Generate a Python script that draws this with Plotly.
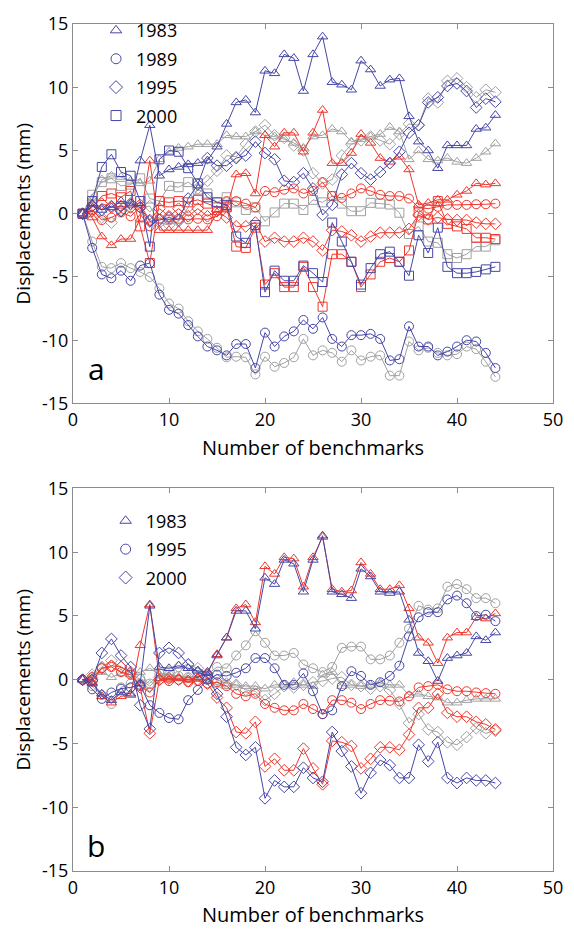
import plotly.graph_objects as go

# Benchmark index along the levelling line
bench = list(range(1, 45))

# ---- Panel a: displacements for 1983, 1989, 1995, 2000 (mm) ----
a_blue_1983 = [0, 0.8, 0.3, 0.5, 1.0, 0.8, 4.2, 7.0, 3.0, 3.5, 3.7, 3.9, 4.0, 4.2, 5.3, 7.1, 8.8, 9.0, 8.0, 11.3, 11.1, 12.6, 12.3, 9.7, 12.6, 14.0, 10.4, 10.2, 9.8, 12.1, 11.4, 10.1, 10.6, 10.7, 7.7, 5.7, 5.0, 3.6, 5.4, 5.4, 5.4, 6.7, 6.8, 7.8]
a_red_1983 = [0, -0.3, -1.8, -2.5, -2.0, -2.0, -0.4, 4.2, -1.3, -1.3, -1.3, -1.3, -1.3, -1.3, 0.1, 0.4, 3.1, 3.2, 1.6, 6.2, 5.3, 6.4, 6.4, 4.9, 6.4, 8.2, 4.0, 4.0, 4.8, 6.3, 5.6, 4.4, 4.1, 4.5, 3.5, 0.7, 0.85, 1.1, 1.1, 1.5, 1.8, 2.4, 2.3, 2.4]
a_gray_1983 = [0, 1.2, 2.7, 3.0, 2.9, 2.6, 2.4, 2.6, 4.3, 4.9, 5.2, 5.3, 5.5, 5.5, 5.5, 6.2, 6.1, 6.1, 6.5, 6.2, 6.1, 5.9, 5.6, 5.2, 6.1, 6.2, 6.7, 6.5, 5.7, 5.9, 6.1, 6.3, 6.85, 6.5, 4.3, 5.0, 4.3, 4.2, 4.4, 4.1, 4.0, 4.4, 4.9, 5.55]

a_blue_1989 = [0, -2.7, -4.8, -5.1, -4.5, -5.3, -4.1, -3.9, -6.4, -7.6, -7.9, -8.8, -9.7, -10.5, -10.8, -11.2, -10.3, -10.3, -12.2, -9.4, -10.5, -9.7, -9.3, -8.4, -9.1, -8.2, -9.9, -10.5, -9.6, -9.6, -9.5, -9.9, -11.6, -11.5, -8.9, -10.5, -10.5, -11.2, -10.9, -10.5, -10.0, -10.1, -11.0, -12.2]
a_red_1989 = [0, 0.3, -0.5, -0.3, 0.1, -0.2, 0.5, -1.0, -0.4, -0.45, -0.4, -0.45, -0.4, -0.45, -0.2, 1.0, 1.0, 0.8, 0.5, 1.8, 1.7, 1.9, 2.0, 1.6, 1.8, 2.5, 1.4, 1.25, 1.6, 2.0, 1.8, 1.5, 1.4, 1.4, 1.2, 0.5, 0.4, 0.55, 0.7, 0.7, 0.7, 0.75, 0.75, 0.8]
a_gray_1989 = [0, -2.2, -4.2, -4.3, -3.9, -4.3, -4.6, -5.0, -5.9, -7.1, -7.5, -8.5, -9.3, -9.9, -10.6, -11.35, -11.3, -11.35, -12.7, -11.3, -12.1, -11.8, -11.35, -9.9, -11.2, -10.8, -11.0, -11.7, -10.8, -11.6, -11.3, -11.2, -12.8, -12.8, -10.1, -10.8, -10.6, -11.0, -11.2, -11.1, -10.5, -10.7, -11.7, -12.9]

a_blue_1995 = [0, 0.6, 0.3, 0.6, 0.2, 0.8, 0.5, -0.6, -0.5, -0.3, -0.5, 1.2, 2.3, 4.4, 3.8, 3.8, 4.4, 4.6, 5.7, 4.8, 4.3, 2.6, 2.5, 3.2, 2.0, -0.1, 0.7, 3.1, 4.0, 3.2, 2.7, 3.3, 4.0, 4.9, 6.4, 7.0, 8.8, 9.2, 10.1, 10.3, 9.7, 8.4, 9.1, 8.85]
a_red_1995 = [0, 0.2, 0.8, 0.5, 0.6, 0.5, 0.7, -0.5, 0.4, -0.2, 0.4, -0.2, 0.4, -0.2, 0.2, -0.3, -1.0, -1.0, -0.7, -2.2, -1.9, -2.2, -2.2, -1.9, -2.2, -2.9, -1.3, -1.4, -1.7, -2.2, -1.8, -1.5, -1.5, -1.5, -1.2, -0.1, -0.45, -0.3, -0.45, -0.5, -0.5, -0.7, -0.8, -0.8]
a_gray_1995 = [0, 0.3, -0.3, -0.7, 0.3, 0.7, 0.5, 0.6, -0.7, -0.9, -0.6, 0.5, 2.0, 2.6, 3.4, 4.6, 4.5, 5.5, 6.5, 7.0, 6.2, 6.0, 5.4, 5.0, 3.2, 2.4, 2.7, 4.6, 5.5, 5.8, 6.1, 5.8, 5.5, 6.3, 7.1, 7.0, 9.1, 8.8, 10.5, 10.7, 10.0, 9.2, 9.8, 9.6]

a_blue_2000 = [0, 1.0, 3.7, 4.7, 3.3, 3.0, 1.0, -2.6, 4.3, 5.0, 4.9, 3.6, 2.4, 1.3, 0.9, 0.7, -1.8, -2.3, -0.9, -6.2, -4.5, -5.3, -5.3, -4.1, -4.7, -5.4, -0.7, -2.2, -3.8, -5.6, -4.3, -3.2, -3.0, -3.8, -4.9, -1.7, -3.1, -1.1, -4.2, -4.7, -4.7, -4.6, -4.4, -4.2]
a_red_2000 = [0, 0.5, 1.4, 1.6, 1.3, 1.8, -1.0, -3.9, 1.0, 0.9, 1.0, 0.9, 1.1, 0.8, 0.5, 0.5, -2.6, -2.7, -1.1, -5.6, -4.7, -5.8, -5.8, -4.2, -5.8, -7.35, -3.2, -3.2, -3.8, -5.8, -4.8, -3.8, -3.5, -3.8, -2.9, 0.1, -0.45, 1.0, -0.8, -1.0, -1.2, -1.9, -1.9, -2.0]
a_gray_2000 = [0, 1.5, 2.5, 2.8, 2.2, 2.3, 2.8, 1.2, 1.0, 2.2, 2.1, 2.5, 1.9, 1.6, 0.9, 1.3, 0.9, 0.3, 0.5, -0.6, 0.1, 0.8, 0.8, 0.3, 1.1, 0.9, 1.4, 0.8, 0.2, 0.2, 0.86, 0.8, 0.73, 0.08, -1.6, -1.0, -2.2, -2.3, -3.2, -3.5, -3.2, -2.6, -2.6, -2.1]

# ---- Panel b: displacements for 1983, 1995, 2000 (mm) ----
b_blue_1983 = [0, -0.3, -1.1, -1.6, -1.0, -1.1, -0.3, 5.8, 1.0, 0.9, 1.1, 0.9, 0.7, 0.6, 1.9, 3.3, 5.4, 5.4, 4.0, 8.0, 7.5, 9.4, 9.1, 6.9, 9.4, 11.3, 6.9, 6.7, 6.4, 8.7, 8.1, 6.9, 6.8, 6.9, 4.7, 2.1, 1.45, -0.1, 1.7, 1.9, 2.1, 3.4, 3.1, 3.7]
b_red_1983 = [0, -0.2, -1.3, -1.8, -1.3, -1.2, 2.7, 5.9, 0.1, 0.0, 0.1, 0.0, 0.2, 0.5, 2.0, 3.3, 5.6, 5.9, 4.5, 8.9, 8.3, 9.6, 9.5, 7.3, 9.6, 11.2, 7.1, 6.9, 7.0, 9.2, 8.3, 7.1, 7.1, 7.4, 5.6, 3.3, 2.9, 1.3, 3.3, 3.7, 3.7, 4.9, 4.8, 5.2]
b_gray_1983 = [0, 0.3, 0.6, 0.2, 0.5, 0.4, 0.6, 0.9, 0.4, 0.3, 0.2, 0.2, 0.1, -0.1, -0.4, -0.5, -0.4, -0.5, -0.5, -0.7, -0.4, -0.4, -0.2, -0.4, -0.5, 0.4, 0.6, -0.5, -0.4, -0.5, -0.4, -0.25, -0.4, -0.4, -1.2, -1.1, -1.3, -1.4, -1.8, -1.8, -1.6, -1.5, -1.5, -1.5]

b_blue_1995 = [0, -0.75, -1.5, -1.0, -0.7, -0.6, -0.4, -2.0, -2.6, -3.0, -3.1, -1.6, -0.8, 0.0, 0.4, 0.3, 0.55, 0.9, 1.7, 1.7, 0.9, -0.4, -0.4, 0.5, -0.9, -2.7, -2.4, -0.5, 0.67, 0.3, -0.4, -0.2, 0.3, 1.1, 3.4, 4.9, 5.3, 5.3, 6.3, 6.6, 6.0, 5.0, 5.1, 4.6]
b_red_1995 = [0, 0.2, 0.9, 1.0, 0.6, 0.4, -0.5, -1.0, 0.0, -0.1, 0.0, -0.2, -0.1, -0.3, -0.2, -0.5, -1.1, -1.3, -1.1, -1.9, -2.2, -2.4, -2.4, -1.9, -2.3, -2.7, -1.6, -1.6, -1.8, -2.3, -1.9, -1.6, -1.65, -1.7, -1.3, -0.6, -0.5, -0.4, -0.75, -0.9, -0.9, -1.0, -1.05, -1.1]
b_gray_1995 = [0, -0.5, -1.2, -1.9, -0.6, -0.3, 0.1, -0.3, 0.5, 0.4, 0.3, 0.2, 0.3, 0.4, 1.0, 0.9, 1.9, 2.7, 3.8, 2.9, 1.9, 1.9, 2.1, 1.2, 0.9, 0.6, 1.0, 2.5, 2.6, 2.6, 1.6, 1.6, 1.9, 2.9, 4.0, 5.8, 5.5, 5.6, 7.3, 7.5, 7.1, 6.4, 6.4, 6.0]

b_blue_2000 = [0, 0.0, 2.1, 3.2, 1.9, 1.0, -2.0, -3.85, 2.1, 2.5, 2.1, 1.2, 0.6, 0.2, -1.1, -2.9, -5.3, -5.9, -5.3, -9.3, -7.9, -8.4, -8.4, -6.9, -7.7, -8.0, -4.1, -5.6, -6.8, -8.9, -7.3, -6.3, -6.7, -7.7, -7.7, -5.1, -6.4, -4.9, -7.7, -8.1, -7.7, -7.9, -7.9, -8.1]
b_red_2000 = [0, -0.1, 0.9, 1.1, 1.0, 0.6, -0.6, -4.2, 0.0, 0.1, 0.0, -0.1, 0.0, -0.3, -1.4, -2.2, -4.1, -4.2, -3.3, -6.8, -6.2, -7.1, -7.1, -5.4, -6.95, -8.2, -4.8, -4.9, -5.2, -6.95, -6.2, -5.3, -5.3, -5.5, -4.3, -2.2, -2.2, -1.1, -2.6, -2.9, -2.9, -3.3, -3.5, -3.9]
b_gray_2000 = [0, 0.4, 1.0, 1.5, 1.0, 0.5, 0.0, -0.5, 0.2, 0.6, 1.0, 1.2, 0.9, 0.5, 0.0, -0.3, -0.4, -0.8, -0.9, -1.6, -1.1, -0.5, -0.6, -0.4, -0.2, -0.1, 0.1, 0.2, -0.4, -0.5, -0.7, -0.5, -0.8, -1.9, -3.4, -2.7, -3.9, -4.1, -4.9, -5.1, -4.5, -3.8, -4.2, -4.0]

# Axis tick labels
x_ticks = [0, 10, 20, 30, 40, 50]
x_ticktext = ["0", "10", "20", "30", "40", "50"]
y_ticks = [-15, -10, -5, 0, 5, 10, 15]
y_ticktext = ["-15", "-10", "-5", "0", "5", "10", "15"]

BLUE = "rgb(70,70,168)"
RED = "rgb(238,55,45)"
GRAY = "rgb(160,160,160)"
FONT = "Open Sans"

# marker symbol per survey year, per panel
SYM_A = {"1983": "triangle-up-open", "1989": "circle-open",
         "1995": "diamond-open", "2000": "square-open"}
SYM_B = {"1983": "triangle-up-open", "1995": "circle-open",
         "2000": "diamond-open"}

fig = go.Figure()


def add_series(y, color, symbol, xa, ya):
    fig.add_trace(go.Scatter(
        x=bench, y=y, mode="lines+markers", xaxis=xa, yaxis=ya,
        line=dict(color=color, width=1),
        marker=dict(symbol=symbol, color=color, size=9,
                    line=dict(color=color, width=1)),
        showlegend=False, hoverinfo="skip"))


panel_a = {
    "1983": (a_blue_1983, a_red_1983, a_gray_1983),
    "1989": (a_blue_1989, a_red_1989, a_gray_1989),
    "1995": (a_blue_1995, a_red_1995, a_gray_1995),
    "2000": (a_blue_2000, a_red_2000, a_gray_2000),
}
panel_b = {
    "1983": (b_blue_1983, b_red_1983, b_gray_1983),
    "1995": (b_blue_1995, b_red_1995, b_gray_1995),
    "2000": (b_blue_2000, b_red_2000, b_gray_2000),
}

panels = ((panel_a, SYM_A, "x", "y", "legend"), (panel_b, SYM_B, "x2", "y2", "legend2"))

# draw gray first, then red, then blue on top
for panel, sym, xa, ya, _ in panels:
    for idx, color in ((2, GRAY), (1, RED), (0, BLUE)):
        for year, series in panel.items():
            add_series(series[idx], color, sym[year], xa, ya)

# legend entries (blue open markers)
for panel, sym, xa, ya, lg in panels:
    for year in panel:
        fig.add_trace(go.Scatter(
            x=[None], y=[None], mode="markers", xaxis=xa, yaxis=ya,
            marker=dict(symbol=sym[year], color=BLUE, size=10,
                        line=dict(color=BLUE, width=1)),
            name=year, legend=lg, legendgroup=lg + year, showlegend=True))

axis_common = dict(
    showline=True, linecolor="rgb(140,140,140)", linewidth=1, mirror="ticks",
    ticks="inside", ticklen=5, tickcolor="rgb(140,140,140)", showgrid=False,
    zeroline=False, tickfont=dict(family=FONT, size=18, color="black"),
)

x_common = dict(axis_common, range=[0, 50], tickvals=x_ticks, ticktext=x_ticktext,
                title=dict(text="Number of benchmarks",
                           font=dict(family=FONT, size=20, color="black"), standoff=10))
y_common = dict(axis_common, range=[-15, 15], tickvals=y_ticks, ticktext=y_ticktext,
                title=dict(text="Displacements (mm)",
                           font=dict(family=FONT, size=19, color="black"), standoff=6))

legend_common = dict(xanchor="left", yanchor="top", bgcolor="rgba(0,0,0,0)",
                     font=dict(family=FONT, size=18, color="black"),
                     itemsizing="trace", tracegroupgap=2, borderwidth=0)

fig.update_layout(
    width=574, height=934,
    margin=dict(l=73, r=11, t=14, b=63),
    paper_bgcolor="white", plot_bgcolor="white",
    font=dict(family=FONT, color="black"),
    xaxis=dict(x_common, domain=[0, 1], anchor="y"),
    yaxis=dict(y_common, domain=[0.552, 1.0], anchor="x"),
    xaxis2=dict(x_common, domain=[0, 1], anchor="y2"),
    yaxis2=dict(y_common, domain=[0.0, 0.4516], anchor="x2"),
    legend=dict(legend_common, x=0.048, y=1.014),
    legend2=dict(legend_common, x=0.068, y=0.435),
    annotations=[
        dict(text="a", x=2.45, y=-12.2, xref="x", yref="y", showarrow=False,
             font=dict(family=FONT, size=30, color="black")),
        dict(text="b", x=2.35, y=-13.0, xref="x2", yref="y2", showarrow=False,
             font=dict(family=FONT, size=30, color="black")),
    ],
)

fig.write_html("out.html")
